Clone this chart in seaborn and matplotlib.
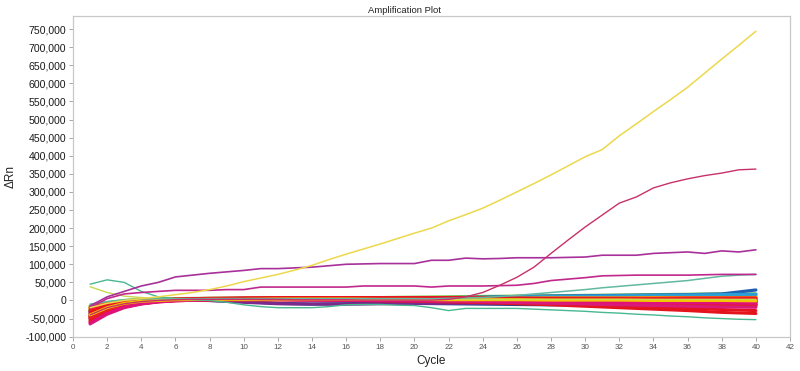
import matplotlib
matplotlib.use("Agg")
import matplotlib.pyplot as plt
import seaborn as sns
from matplotlib.ticker import FixedLocator, FuncFormatter

# ---------------- data (ΔRn values) ----------------
CYCLES = list(range(1, 41))
# sampled cycles used for the dense baseline band
BAND_CYCLES = [1, 2, 3, 4, 5, 6, 8, 10, 12, 14, 16, 18, 20, 22, 24, 26, 28, 30, 32, 34, 36, 38, 40]

yellow_amp = [-20000, -8000, 0, 5000, 10000, 16000, 22000, 30000, 40000, 52000,
              62000, 72000, 84000, 97000, 113000, 128000, 142000, 156000, 171000, 186000,
              200000, 220000, 237000, 255000, 277000, 300000, 323000, 347000, 372000, 397000,
              417000, 455000, 488000, 522000, 555000, 589000, 628000, 667000, 705000, 744000]
crimson_sigmoid = [-40000, -20000, -9000, -3000, 0, 2000, 3000, 3000, 3000, 3000,
                   3000, 3000, 2000, 2000, 2000, 2000, 1000, 1000, 1000, 1000,
                   1000, 3000, 10000, 22000, 42000, 64000, 92000, 130000, 167000, 203000,
                   236000, 269000, 286000, 311000, 325000, 336000, 345000, 352000, 361000, 363000]
purple_high = [-15000, 10000, 25000, 40000, 50000, 65000, 70000, 75000, 79000, 83000,
               88000, 88000, 90000, 92000, 96000, 100000, 101000, 102000, 102000, 102000,
               111000, 111000, 117000, 115000, 116000, 118000, 118000, 118000, 119000, 120000,
               125000, 125000, 125000, 130000, 132000, 134000, 130000, 137000, 134000, 140000]
magenta_mid = [-20000, 5000, 18000, 22000, 25000, 28000, 28000, 28000, 30000, 30000,
               37000, 37000, 37000, 37000, 37000, 37000, 40000, 40000, 40000, 40000,
               37000, 40000, 40000, 40000, 41000, 42000, 47000, 55000, 59000, 63000,
               68000, 69000, 70000, 70000, 70000, 70000, 71000, 72000, 72000, 72000]
teal_late = [-10000, -3000, 2000, 4000, 5000, 5000, 5000, 5000, 5000, 5000,
             5000, 5000, 5000, 5000, 5000, 5000, 5000, 5000, 5000, 5000,
             5000, 6000, 7000, 8000, 11000, 14000, 18000, 22000, 26000, 30000,
             35000, 39000, 43000, 47000, 51000, 55000, 61000, 67000, 70000, 72000]
green_hump = [45000, 57000, 50000, 25000, 10000, 5000, 2000, 0, -5000, -12000,
              -17000, -20000, -20000, -20000, -17000, -12000, -11000, -11000, -13000, -14000,
              -20000, -28000, -22000, -22000, -22000, -22000, -24000, -26000, -28000, -30000,
              -33000, -35000, -38000, -40000, -43000, -45000, -48000, -50000, -52000, -53000]
lime_start = [38000, 22000, 12000, 8000, 5000, 3000, 3000, 3000, 3000, 3000,
              3000, 3000, 3000, 3000, 3000, 3000, 3000, 3000, 3000, 3000,
              3000, 3000, 3000, 3000, 3000, 3000, 3000, 3000, 3000, 3000,
              3000, 3000, 3000, 3000, 3000, 3000, 3000, 3000, 3000, 3000]

# baseline band (values at BAND_CYCLES)
band_green_1 = [-20000, -8000, -2000, 2000, 4000, 5000, 6000, 7000, 7000, 7000, 8000, 8000, 9000, 10000, 11000, 12000, 13000, 14000, 15000, 16000, 17000, 18000, 18000]
band_green_2 = [-15000, -6000, 0, 3000, 4000, 5000, 5000, 5000, 5000, 5000, 5000, 6000, 6000, 7000, 8000, 9000, 10000, 11000, 12000, 13000, 14000, 15000, 15000]
band_green_3 = [-25000, -12000, -5000, 0, 2000, 3000, 4000, 4000, 4000, 4000, 4000, 4000, 5000, 6000, 7000, 8000, 9000, 10000, 10000, 11000, 11000, 12000, 12000]
band_green_4 = [-18000, -7000, -1000, 2000, 3000, 4000, 5000, 5000, 5000, 5000, 5000, 5000, 5000, 6000, 6000, 7000, 7000, 8000, 8000, 9000, 9000, 9000, 9000]
band_blue_1 = [-30000, -15000, -6000, -1000, 2000, 3000, 4000, 5000, 5000, 5000, 5000, 6000, 7000, 8000, 9000, 11000, 12000, 13000, 14000, 15000, 16000, 18000, 29000]
band_lblue_1 = [-35000, -18000, -8000, -3000, 0, 2000, 3000, 3000, 3000, 3000, 3000, 4000, 5000, 6000, 8000, 10000, 11000, 12000, 13000, 14000, 15000, 16000, 17000]
band_yellow_1 = [-22000, -10000, -3000, 1000, 3000, 4000, 5000, 5000, 5000, 5000, 6000, 6000, 6000, 6000, 6000, 6000, 7000, 7000, 7000, 8000, 8000, 8000, 8000]
band_yellow_2 = [-40000, -20000, -8000, -2000, 0, 2000, 3000, 3000, 4000, 4000, 4000, 3000, 3000, 2000, 2000, 2000, 1000, 1000, 1000, 0, 0, 0, -1000]
band_orange_1 = [-45000, -25000, -10000, -3000, 0, 1000, 2000, 2000, 2000, 2000, 2000, 1000, 1000, 0, 0, -1000, -1000, -2000, -2000, -2000, -3000, -3000, -3000]
band_blue_dip = [-42000, -22000, -10000, -3000, 0, 1000, 0, -3000, -8000, -10000, -9000, -8000, -8000, -9000, -10000, -11000, -12000, -12000, -12000, -13000, -13000, -14000, -14000]
band_purple_dip = [-48000, -26000, -12000, -5000, -1000, 1000, 0, -5000, -9000, -10000, -10000, -9000, -8000, -8000, -8000, -8000, -8000, -9000, -10000, -10000, -10000, -11000, -11000]
band_teal_1 = [-30000, -15000, -6000, -2000, 1000, 2000, 3000, 3000, 3000, 3000, 3000, 3000, 2000, 2000, 1000, 0, -1000, -2000, -3000, -5000, -7000, -9000, -10000]
band_magenta_1 = [-65000, -38000, -20000, -10000, -4000, -1000, 2000, 3000, 3000, 2000, 1000, 0, -1000, -2000, -4000, -6000, -8000, -10000, -12000, -14000, -16000, -18000, -19000]
band_magenta_2 = [-62000, -36000, -18000, -9000, -3000, 0, 2000, 2000, 2000, 1000, 1000, 0, 0, -1000, -1000, -2000, -3000, -4000, -5000, -6000, -6000, -7000, -8000]
band_red_1 = [-60000, -35000, -18000, -9000, -4000, -1000, 2000, 3000, 4000, 4000, 4000, 4000, 4000, 3000, 3000, 3000, 2000, 2000, 1000, 1000, 0, 0, 0]
band_red_2 = [-55000, -30000, -15000, -7000, -2000, 1000, 3000, 4000, 5000, 5000, 5000, 5000, 5000, 5000, 5000, 5000, 5000, 5000, 5000, 5000, 5000, 5000, 5000]
band_red_3 = [-50000, -28000, -13000, -6000, -1000, 1000, 4000, 5000, 5000, 5000, 4000, 4000, 3000, 3000, 2000, 2000, 2000, 1000, 1000, 0, 0, -1000, -1000]
band_red_4 = [-45000, -24000, -11000, -4000, 0, 2000, 5000, 6000, 6000, 6000, 6000, 6000, 6000, 6000, 6000, 6000, 6000, 6000, 6000, 6000, 7000, 7000, 7000]
band_red_5 = [-40000, -22000, -10000, -4000, 0, 2000, 4000, 5000, 5000, 5000, 5000, 4000, 4000, 3000, 3000, 2000, 1000, 0, -1000, -2000, -3000, -4000, -5000]
band_red_6 = [-35000, -18000, -8000, -3000, 0, 2000, 3000, 4000, 4000, 4000, 3000, 3000, 2000, 2000, 1000, 0, -1000, -2000, -3000, -4000, -5000, -6000, -7000]
band_red_7 = [-30000, -15000, -6000, -1000, 1000, 2000, 3000, 3000, 3000, 3000, 3000, 2000, 2000, 1000, 1000, 0, 0, -1000, -1000, -2000, -2000, -3000, -3000]
band_red_8 = [-25000, -12000, -4000, 0, 2000, 3000, 4000, 4000, 4000, 4000, 4000, 4000, 4000, 4000, 4000, 4000, 3000, 3000, 3000, 3000, 3000, 3000, 3000]
band_red_9 = [-20000, -9000, -2000, 1000, 2000, 3000, 4000, 4000, 4000, 4000, 4000, 4000, 3000, 3000, 3000, 3000, 3000, 2000, 2000, 2000, 2000, 2000, 2000]
band_red_10 = [-58000, -32000, -16000, -8000, -3000, 0, 2000, 3000, 3000, 3000, 2000, 1000, 0, -1000, -2000, -3000, -4000, -5000, -6000, -8000, -9000, -10000, -11000]
band_red_11 = [-52000, -28000, -14000, -6000, -2000, 0, 3000, 4000, 4000, 3000, 3000, 2000, 1000, 0, -1000, -2000, -4000, -6000, -8000, -10000, -12000, -14000, -16000]
band_red_12 = [-38000, -20000, -9000, -3000, 0, 2000, 3000, 3000, 3000, 3000, 2000, 1000, 0, -1000, -3000, -6000, -9000, -12000, -15000, -18000, -22000, -25000, -28000]
band_red_13 = [-45000, -24000, -11000, -4000, 0, 1000, 2000, 2000, 2000, 1000, 0, -1000, -2000, -4000, -6000, -9000, -12000, -16000, -20000, -24000, -28000, -33000, -36000]
band_red_14 = [-28000, -14000, -5000, -1000, 1000, 2000, 3000, 4000, 5000, 6000, 6000, 6000, 6000, 6000, 6000, 6000, 6000, 6000, 6000, 6000, 6000, 6000, 6000]
band_red_15 = [-33000, -16000, -7000, -2000, 1000, 2000, 3000, 4000, 4000, 4000, 4000, 4000, 3000, 2000, 1000, 0, -1000, -2000, -3000, -3000, -4000, -4000, -5000]
band_red_16 = [-48000, -26000, -12000, -5000, -1000, 1000, 4000, 6000, 7000, 7000, 7000, 6000, 5000, 4000, 3000, 2000, 1000, 0, -1000, -2000, -3000, -3000, -4000]
band_red_17 = [-42000, -21000, -9000, -2000, 2000, 4000, 6000, 7000, 8000, 8000, 8000, 8000, 8000, 8000, 7000, 6000, 5000, 4000, 3000, 2000, 1000, 0, -1000]

Y_TICKS = list(range(-100000, 750001, 50000))
X_TICKS = list(range(0, 43, 2))

# ---------------- styling ----------------
sns.set_theme(style="white")
plt.rcParams["font.family"] = ["Liberation Sans", "DejaVu Sans"]

fig = plt.figure(figsize=(8.0, 3.71), dpi=100)
ax = fig.add_axes([0.09125, 0.0916, 0.8963, 0.8653])

band_under = [
    (band_green_1, "#7cc242"), (band_green_2, "#8cc63f"), (band_green_3, "#6db33f"),
    (band_green_4, "#9ccc3c"),
    (band_blue_1, "#1f5fb4"), (band_lblue_1, "#2a9fd6"), (band_teal_1, "#20a08a"),
    (band_blue_dip, "#23408e"), (band_purple_dip, "#7b2a8c"),
    (band_yellow_1, "#f2d500"), (band_orange_1, "#f08a1c"),
]
band_over = [
    (band_red_1, "#e8121e"), (band_red_2, "#ea1a20"), (band_red_3, "#e31b23"),
    (band_red_4, "#ee2224"), (band_red_5, "#e8121e"), (band_red_6, "#e4141c"),
    (band_red_7, "#ee1c25"), (band_red_8, "#e8121e"), (band_red_9, "#f0262a"),
    (band_red_10, "#e8121e"), (band_red_11, "#e31b23"), (band_red_12, "#e8121e"),
    (band_red_13, "#e4141c"), (band_red_14, "#ee1c25"), (band_red_15, "#e8121e"),
    (band_red_16, "#ec1e24"), (band_red_17, "#e8121e"),
    (band_magenta_1, "#d81b7a"), (band_magenta_2, "#e0127a"), (band_yellow_2, "#f2c800"),
]
for vals, col in band_under:
    sns.lineplot(x=BAND_CYCLES, y=vals, color=col, lw=2.3, ax=ax, zorder=2)
for vals, col in band_over:
    sns.lineplot(x=BAND_CYCLES, y=vals, color=col, lw=2.2, ax=ax, zorder=3)

outliers = [
    (green_hump, "#48b890", 1.0),
    (lime_start, "#c8d850", 1.0),
    (teal_late, "#62b8a0", 1.1),
    (magenta_mid, "#c0288c", 1.2),
    (purple_high, "#a8309a", 1.2),
    (crimson_sigmoid, "#c8306a", 1.0),
    (yellow_amp, "#ecd84c", 1.1),
]
for vals, col, lw in outliers:
    sns.lineplot(x=CYCLES, y=vals, color=col, lw=lw, ax=ax, zorder=4)

ax.set_xlim(0, 42)
ax.set_ylim(-101000, 786000)
ax.xaxis.set_major_locator(FixedLocator(X_TICKS))
ax.yaxis.set_major_locator(FixedLocator(Y_TICKS))
ax.yaxis.set_major_formatter(FuncFormatter(lambda v, p: f"{int(v):,}".replace("\u2212", "-")))

for s in ax.spines.values():
    s.set_color("#c8c8c8")
    s.set_linewidth(0.9)
ax.tick_params(axis="y", which="major", length=3, width=0.6, color="#999999",
               labelsize=7.6, labelcolor="#1a1a1a", pad=2, left=True)
ax.tick_params(axis="x", which="major", length=3, width=0.6, color="#999999",
               labelsize=5.8, labelcolor="#555555", pad=2, bottom=True)

ax.set_xlabel("Cycle", fontsize=8.5, color="#222222", labelpad=3)
ax.set_ylabel("ΔRn", fontsize=8.5, color="#222222", labelpad=6)
fig.text(0.505, 0.985, "Amplification Plot", ha="center", va="top", fontsize=6.8, color="#222222")

fig.savefig("out.png", dpi=100)
